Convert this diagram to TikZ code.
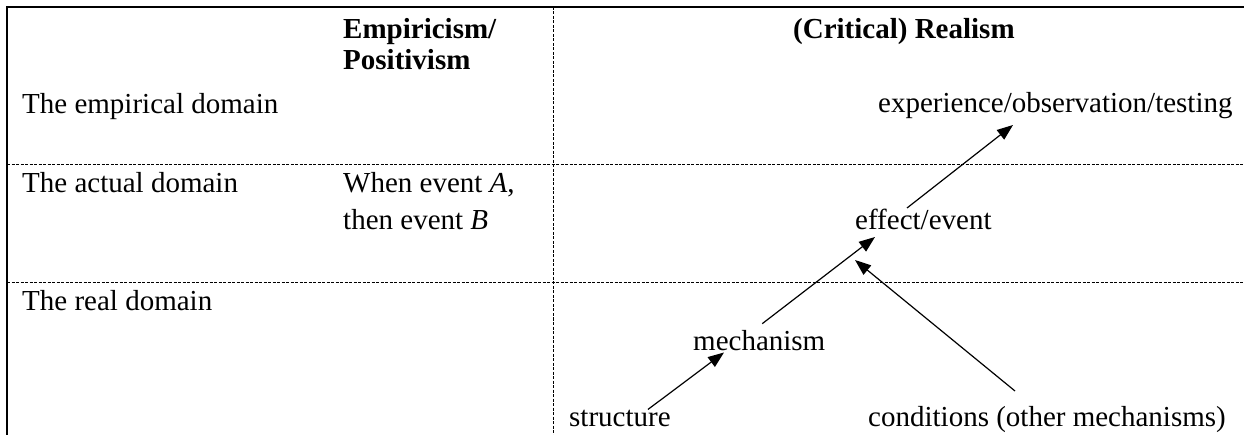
\documentclass[tikz,border=0pt]{standalone}
\usepackage{fontspec}
\setmainfont{Liberation Serif}
\usetikzlibrary{arrows.meta}
\tikzset{>={Triangle[length=16pt,width=12pt]}}

\begin{document}
\begin{tikzpicture}[x=1pt, y=-1pt,
		txt/.style={anchor=base west, inner sep=0pt, font=\fontsize{29}{34}\selectfont},
		hdr/.style={txt, font=\fontsize{29}{34}\selectfont\bfseries},
		rule/.style={line width=0.9pt, dash pattern=on 3pt off 1.5pt},
		frame/.style={line width=2.5pt},
		link/.style={->, line width=1.2pt}]
		\useasboundingbox (0,0) rectangle (1244,435);
		% Frame
		\draw[frame] (7,435) -- (7,7) -- (1244,7);
		% Dashed rules
		\draw[rule] (7,164) -- (1244,164);
		\draw[rule] (7,282) -- (1244,282);
		\draw[rule] (553,7) -- (553,435);
		% Headers
		\node[hdr] (empir) at (343,39) {Empiricism/};
		\node[hdr] (posit) at (343,70) {Positivism};
		\node[hdr] (crit) at (793,39) {(Critical) Realism};
		% Domains
		\node[txt] (lempir) at (22,114) {The empirical domain};
		\node[txt] (lactual) at (22,193) {The actual domain};
		\node[txt] (lreal) at (22,311) {The real domain};
		% Positivism column
		\node[txt] (whenA) at (343,193) {When event \textit{A},};
		\node[txt] (thenB) at (343,230) {then event \textit{B}};
		% Realism column
		\node[txt] (exper) at (878,113) {experience/observation/testing};
		\node[txt] (effect) at (855,230) {effect/event};
		\node[txt] (mech) at (693,350) {mechanism};
		\node[txt] (struct) at (569,426) {structure};
		\node[txt] (cond) at (868,426) {conditions (other mechanisms)};
		% Arrows
		\draw[link] ([xshift=28pt]struct.north) -- ([xshift=31pt,yshift=-2pt]mech.south west);
		\draw[link] ([xshift=3pt,yshift=6pt]mech.north) -- ([xshift=20pt,yshift=-7pt]effect.base west);
		\draw[link] ([xshift=147pt,yshift=35pt]cond.base west) -- ([yshift=-30pt]effect.base west);
		\draw[link] ([xshift=52pt,yshift=22pt]effect.base west) -- ([xshift=135pt,yshift=-12pt]exper.base west);
	\end{tikzpicture}
\end{document}
